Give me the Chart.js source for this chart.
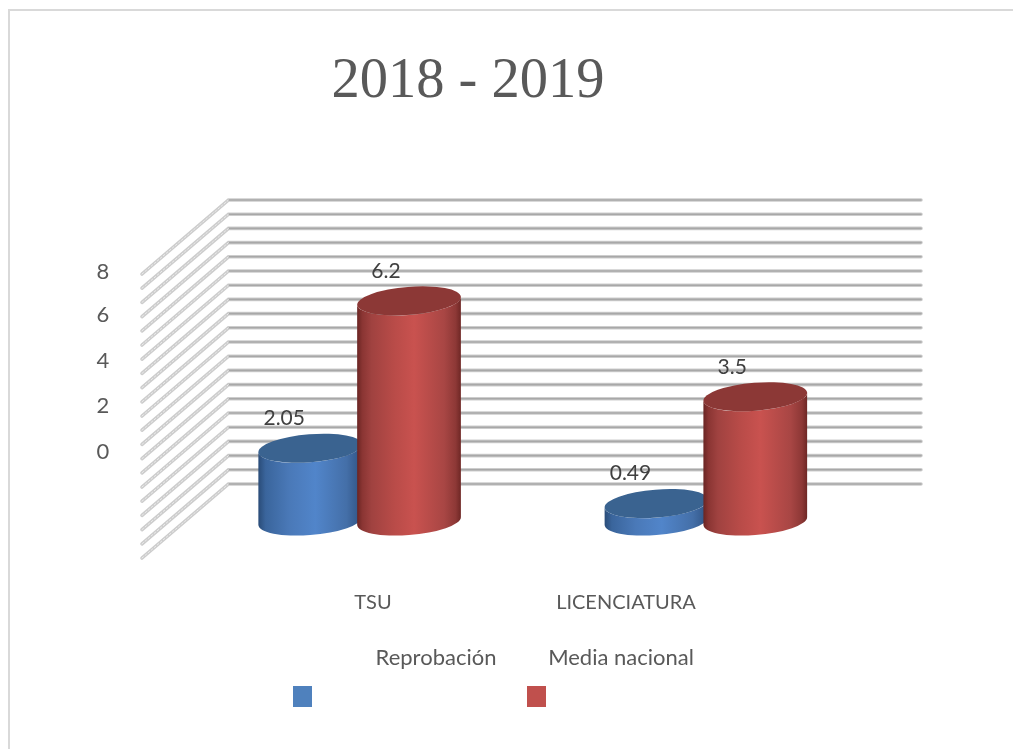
<!DOCTYPE html>
<html>
<head>
<meta charset="utf-8">
<style>html,body{margin:0;padding:0;background:#fff}canvas{display:block}</style>
<script src="https://cdn.jsdelivr.net/npm/chart.js@4"></script>
</head>
<body>
<canvas id="c" width="1013" height="749"></canvas>
<script>
const chartTitle = '2018 - 2019';
const categories = ['TSU', 'LICENCIATURA'];
const seriesNames = ['Reprobación', 'Media nacional'];
const reprobacion = [2.05, 0.49];
const mediaNacional = [6.2, 3.5];
const yTickLabels = ['8', '6', '4', '2', '0'];

const FONT = 'Lato, "Noto Sans", sans-serif';
const TEXT = '#595959';
const LEGEND_COLORS = ['#4f81bd', '#c0504d'];
const SHADES = [
  {top:'#3a6390', stops:[[0,'#2a4c78'],[0.07,'#3a659c'],[0.3,'#4a79b8'],[0.55,'#5185ca'],[0.85,'#446fa8'],[1,'#2f5282']]},
  {top:'#8c3836', stops:[[0,'#6a2523'],[0.05,'#8a3533'],[0.14,'#a04240'],[0.35,'#b84b48'],[0.55,'#c9524f'],[0.84,'#a84644'],[0.95,'#8d3836'],[1,'#6e2725']]}
];
const DEPTH_BACK = 42, DEPTH_FRONT = 44.5, DEPTH_Y = 37;

function text(ctx, s, x, y, font, color) {
  ctx.font = font; ctx.fillStyle = color;
  ctx.textAlign = 'center'; ctx.textBaseline = 'middle';
  ctx.fillText(s, x, y);
}

function cylinder(ctx, cx, topY, baseY, width, shade) {
  const th = -4.6 * Math.PI / 180, W = width / 2, b = 14;
  const a = Math.sqrt(Math.max(W*W - b*b*Math.sin(th)**2, 1) / Math.cos(th)**2);
  const t0 = Math.atan2(-b * Math.sin(th), a * Math.cos(th));
  const ex = a*Math.cos(t0)*Math.cos(th) - b*Math.sin(t0)*Math.sin(th);
  const ey = a*Math.cos(t0)*Math.sin(th) + b*Math.sin(t0)*Math.cos(th);
  const g = ctx.createLinearGradient(cx - W, 0, cx + W, 0);
  shade.stops.forEach(s => g.addColorStop(s[0], s[1]));
  ctx.save();
  ctx.beginPath();
  ctx.moveTo(cx - ex, topY - ey);
  ctx.lineTo(cx - ex, baseY - ey);
  ctx.ellipse(cx, baseY, a, b, th, t0 + Math.PI, t0, true);
  ctx.lineTo(cx + ex, topY + ey);
  ctx.ellipse(cx, topY, a, b, th, t0, t0 + Math.PI, false);
  ctx.closePath();
  ctx.fillStyle = g; ctx.fill();
  ctx.beginPath();
  ctx.ellipse(cx, topY, a, b, th, 0, Math.PI * 2);
  ctx.fillStyle = shade.top; ctx.fill();
  ctx.restore();
}

const scenePlugin = {
  id: 'scene',
  beforeDatasetsDraw(chart) {
    const ctx = chart.ctx, y = chart.scales.y, area = chart.chartArea;
    ctx.save();
    ctx.fillStyle = '#d9d9d9';
    ctx.fillRect(8, 9, 1005, 2);
    ctx.fillRect(8, 9, 2, 740);
    ctx.lineCap = 'round';
    const backL = area.left + DEPTH_BACK, backR = area.right + DEPTH_BACK, frontL = area.left - DEPTH_FRONT;
    y.ticks.forEach(t => {
      const py = y.getPixelForValue(t.value), by = py - DEPTH_Y, fy = py + DEPTH_Y;
      ctx.setLineDash([]);
      ctx.strokeStyle = '#cdcdcd'; ctx.lineWidth = 3.6;
      ctx.beginPath(); ctx.moveTo(frontL, fy); ctx.lineTo(backL, by); ctx.lineTo(backR, by); ctx.stroke();
      ctx.strokeStyle = '#a8a8a8'; ctx.lineWidth = 1.6;
      ctx.beginPath(); ctx.moveTo(backL, by); ctx.lineTo(backR, by); ctx.stroke();
      ctx.strokeStyle = '#ececec'; ctx.lineWidth = 1; ctx.setLineDash([2, 2]);
      ctx.beginPath(); ctx.moveTo(frontL, fy); ctx.lineTo(backL, by); ctx.stroke();
    });
    ctx.restore();
  },
  afterDatasetsDraw(chart) {
    const ctx = chart.ctx;
    text(ctx, chartTitle, 468, 82, '56.5px "Liberation Serif", serif', TEXT);
    const tickY = [272, 315, 361, 406, 452];
    yTickLabels.forEach((s, i) => text(ctx, s, 103, tickY[i], '22px ' + FONT, TEXT));
    const labels = [];
    const labelDx = [-26, -23];
    chart.data.datasets.forEach((ds, i) => {
      chart.getDatasetMeta(i).data.forEach((bar, j) => {
        cylinder(ctx, bar.x, bar.y, bar.base, bar.width, SHADES[i]);
        labels.push([String(ds.data[j]), bar.x + labelDx[i], bar.y - 30]);
      });
    });
    labels.forEach(l => text(ctx, l[0], l[1], l[2], '21px ' + FONT, '#404040'));
    const catX = [373, 626];
    categories.forEach((s, i) => text(ctx, s, catX[i], 603, '20px ' + FONT, TEXT));
    const legendTextX = [436, 621], swatchX = [293, 527];
    seriesNames.forEach((s, i) => {
      text(ctx, s, legendTextX[i], 658, '22px ' + FONT, TEXT);
      ctx.fillStyle = LEGEND_COLORS[i];
      ctx.fillRect(swatchX[i], 686, 19, 21);
    });
  }
};

new Chart(document.getElementById('c'), {
  type: 'bar',
  data: {
    labels: categories,
    datasets: [
      {label: seriesNames[0], data: reprobacion, backgroundColor: 'rgba(0,0,0,0)', borderWidth: 0},
      {label: seriesNames[1], data: mediaNacional, backgroundColor: 'rgba(0,0,0,0)', borderWidth: 0}
    ]
  },
  options: {
    responsive: false,
    animation: false,
    devicePixelRatio: 1,
    layout: {padding: {left: 186.5, right: 134, top: 237, bottom: 228}},
    datasets: {bar: {categoryPercentage: 0.5706, barPercentage: 1.05}},
    scales: {
      x: {display: false},
      y: {display: false, min: 0, max: 8, ticks: {stepSize: 0.4, maxTicksLimit: 30, autoSkip: false}}
    },
    plugins: {legend: {display: false}, tooltip: {enabled: false}}
  },
  plugins: [scenePlugin]
});
</script>
</body>
</html>
